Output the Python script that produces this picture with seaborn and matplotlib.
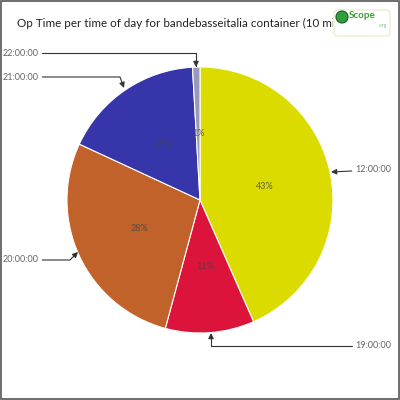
import matplotlib
matplotlib.use("Agg")
import matplotlib.pyplot as plt
import seaborn as sns
from matplotlib.patches import FancyBboxPatch, Rectangle, Circle
from matplotlib.transforms import Bbox, TransformedBbox

sns.set_theme(style="white")
plt.rcParams['font.family'] = ['Lato', 'DejaVu Sans']

# data
hours = ["12:00:00", "19:00:00", "20:00:00", "21:00:00", "22:00:00"]
op_time = [43.4, 10.8, 27.7, 17.2, 0.9]
slice_colors = ["#dbdb00", "#dc143c", "#c0622a", "#3636aa", "#9a9ab8"]

fig = plt.figure(figsize=(4, 4), dpi=100)
ax = fig.add_axes([0, 0, 1, 1])
R = 133.0

wedges, texts, autotexts = ax.pie(
    op_time, colors=slice_colors, startangle=90, counterclock=False,
    autopct="%.0f%%", pctdistance=0.5,
    wedgeprops=dict(edgecolor="white", linewidth=0.8),
    textprops=dict(fontsize=6.5, color="#444444", alpha=0.8))

ax.set_xlim(-200 / R, 200 / R)
ax.set_ylim(-200 / R, 200 / R)
ax.set_aspect("equal")
ax.axis("off")

def px(x, y):
    return ((x - 200) / R, (200 - y) / R)

# label positions / arrow tips (pixels)
label_pos = [(355, 170), (355, 346), (3, 260), (3, 77), (3, 53)]
tip_pos = [(331, 172), (211, 333), (78, 252), (124, 88), (196, 67)]
conns = ["arc3,rad=0", "angle,angleA=0,angleB=90,rad=0",
         "angle,angleA=0,angleB=45,rad=0", "angle,angleA=0,angleB=-70,rad=0",
         "angle,angleA=0,angleB=90,rad=0"]
for h, lp, tp, cs in zip(hours, label_pos, tip_pos, conns):
    ax.annotate(h, xy=px(*tp), xytext=px(*lp), fontsize=6.5, color="#666666",
                va="center", ha="left",
                arrowprops=dict(arrowstyle="-|>", color="#333333", lw=0.8,
                                connectionstyle=cs, shrinkA=0, shrinkB=0,
                                mutation_scale=8))

title = fig.text(17 / 400, 1 - 23 / 400,
                 "Op Time per time of day for bandebasseitalia container (10 mins)",
                 fontsize=8.4, color="#222222", va="center", ha="left")
title.set_clip_box(TransformedBbox(Bbox([[0, 0], [333 / 400, 1]]), fig.transFigure))

# logo box
logo = FancyBboxPatch((334 / 400, 1 - 36 / 400), 56 / 400, 26 / 400,
                      boxstyle="round,pad=0,rounding_size=0.01",
                      transform=fig.transFigure, facecolor="white",
                      edgecolor="#e8e8c8", lw=0.8, zorder=5)
fig.patches.append(logo)
fig.patches.append(Circle((342 / 400, 1 - 17 / 400), 6 / 400, transform=fig.transFigure,
                          facecolor="#2e9e3e", edgecolor="#1a5e20", lw=0.8, zorder=6))
fig.text(349 / 400, 1 - 16 / 400, "Scope", fontsize=7, color="#33a02c",
         fontweight="bold", va="center", ha="left", zorder=7)
fig.text(379 / 400, 1 - 26 / 400, ".org", fontsize=3.5, color="#88bb88",
         va="center", ha="left", zorder=7)

fig.patches.append(Rectangle((0.002, 0.002), 0.996, 0.996, transform=fig.transFigure,
                             fill=False, edgecolor="#555555", lw=1.2, zorder=10))

fig.savefig("out.png", dpi=100)
